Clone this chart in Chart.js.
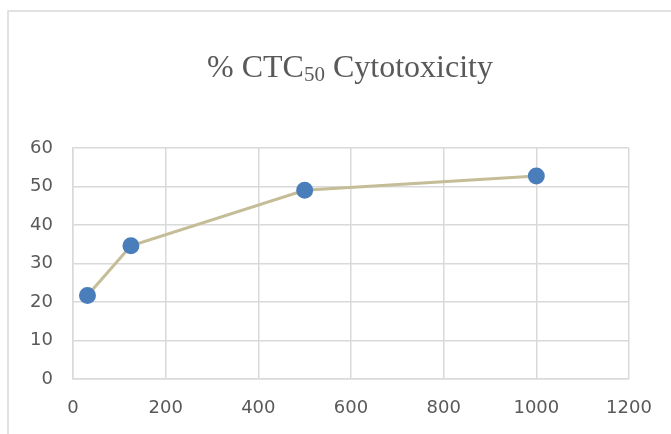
<!DOCTYPE html>
<html>
<head>
<meta charset="utf-8">
<script src="https://cdn.jsdelivr.net/npm/chart.js@4"></script>
<style>
  html, body { margin: 0; padding: 0; background: #fff; }
  #wrap { width: 671px; height: 434px; }
</style>
</head>
<body>
<div id="wrap"><canvas id="cytochart" width="671" height="434"></canvas></div>
<script>
// concentration vs % cytotoxicity
const concentrations = [31.25, 125, 500, 1000];
const cytotoxicity = [21.7, 34.6, 49.0, 52.7];
const xTicks = [0, 200, 400, 600, 800, 1000, 1200];
const yTicks = [0, 10, 20, 30, 40, 50, 60];

const gridColor = '#d9d9d9';
const labelColor = '#595959';

// frame around the chart area + title with subscript
const frameAndTitle = {
  id: 'frameAndTitle',
  beforeDraw(chart) {
    const c = chart.ctx;
    c.save();
    c.fillStyle = '#fff';
    c.fillRect(0, 0, chart.width, chart.height);
    c.strokeStyle = gridColor;
    c.lineWidth = 1.5;
    c.strokeRect(8, 11, 700, 500);
    c.restore();
  },
  afterDraw(chart) {
    const c = chart.ctx;
    const big = '32px "Liberation Serif"';
    const small = '21px "Liberation Serif"';
    const parts = [
      { t: '% CTC', f: big, dy: 0 },
      { t: '50', f: small, dy: 4 },
      { t: ' Cytotoxicity', f: big, dy: 0 }
    ];
    c.save();
    c.fillStyle = labelColor;
    c.textBaseline = 'alphabetic';
    let total = 0;
    parts.forEach(p => { c.font = p.f; p.w = c.measureText(p.t).width; total += p.w; });
    let x = 350 - total / 2;
    parts.forEach(p => {
      c.font = p.f;
      c.fillText(p.t, x, 77 + p.dy);
      x += p.w;
    });
    c.restore();
  }
};

new Chart(document.getElementById('cytochart'), {
  type: 'scatter',
  data: {
    datasets: [{
      label: '% CTC50 Cytotoxicity',
      data: concentrations.map((x, i) => ({ x: x, y: cytotoxicity[i] })),
      showLine: true,
      borderColor: '#c4bd97',
      borderWidth: 3,
      pointBackgroundColor: '#4a7ebb',
      pointBorderColor: '#4a7ebb',
      pointRadius: 7,
      pointHoverRadius: 7
    }]
  },
  options: {
    responsive: false,
    animation: false,
    layout: { padding: { left: 0, right: 42, top: 148, bottom: 0 } },
    plugins: {
      legend: { display: false },
      tooltip: { enabled: false },
      title: { display: false }
    },
    scales: {
      x: {
        type: 'linear',
        min: 0,
        max: 1200,
        afterBuildTicks: s => { s.ticks = xTicks.map(v => ({ value: v })); },
        afterFit: s => { s.height = 55; },
        grid: { color: gridColor, lineWidth: 1.5, drawTicks: false },
        border: { color: gridColor, width: 1.5 },
        ticks: {
          padding: 19, color: labelColor,
          font: { family: 'DejaVu Sans', size: 18 },
          callback: v => String(v)
        }
      },
      y: {
        min: 0,
        max: 60,
        afterBuildTicks: s => { s.ticks = yTicks.map(v => ({ value: v })); },
        afterFit: s => { s.width = 73; },
        grid: { color: gridColor, lineWidth: 1.5, drawTicks: false },
        border: { color: gridColor, width: 1.5 },
        ticks: {
          padding: 20, color: labelColor,
          font: { family: 'DejaVu Sans', size: 18 },
          callback: v => String(v)
        }
      }
    }
  },
  plugins: [frameAndTitle]
});
</script>
</body>
</html>
